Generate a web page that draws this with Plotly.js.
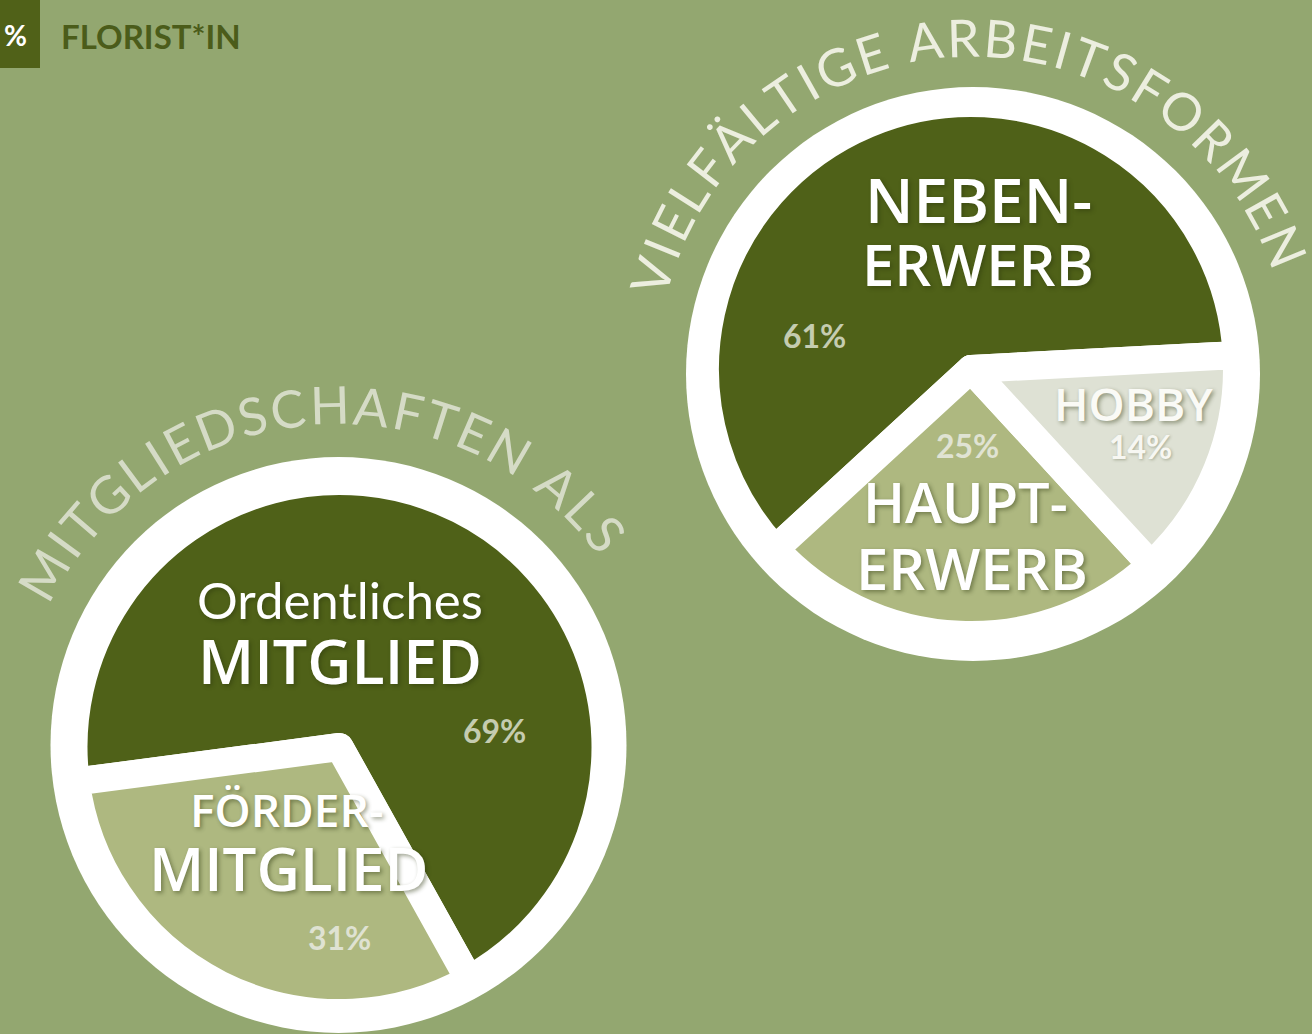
<!DOCTYPE html>
<html><head><meta charset="utf-8">
<script src="https://cdn.plot.ly/plotly-3.0.1.min.js"></script>
<style>html,body{margin:0;padding:0;background:#93a770;} #chart{width:1312px;height:1034px;}</style>
</head><body><div id="chart"></div>
<script>
const W = 1312, H = 1034;

// ---- data ----
const memberCategories = ['Ordentliches Mitglied', 'Fördermitglied'];
const memberLabelLines = [['Ordentliches', 'MITGLIED'], ['FÖRDER-', 'MITGLIED']];
const memberValues = [69, 31];
const memberTitle = 'MITGLIEDSCHAFTEN ALS';

const workCategories = ['Nebenerwerb', 'Haupterwerb', 'Hobby'];
const workLabelLines = [['NEBEN-', 'ERWERB'], ['HAUPT-', 'ERWERB'], ['HOBBY']];
const workValues = [61, 25, 14];
const workTitle = 'VIELFÄLTIGE ARBEITSFORMEN';

const headerBadge = '%';
const headerTitle = 'FLORIST*IN';

// ---- styles ----
const DARK = '#4f6118', OLIVE = '#aeb880', GREY = '#dee1d4', BG = '#93a770';
const LABEL_FONT = '"Open Sans", sans-serif';
const ARC_FONT = 'Lato';
const SHADOW = '2px 2px 4px rgba(40,50,10,0.45)';
const GAP = 28;

function px(x){ return x / W; }
function py(y){ return 1 - y / H; }

// rotation: Plotly angle (clockwise from 12 o'clock) where the first slice ends when drawn counterclockwise
function pieTrace(labels, values, colors, cx, cy, rInner, rotation) {
  const R = rInner + GAP / 2;
  return {
    type: 'pie', labels: labels, values: values, sort: false,
    direction: 'counterclockwise', rotation: rotation,
    marker: { colors: colors, line: { color: '#ffffff', width: GAP } },
    textinfo: 'none', hoverinfo: 'label+percent',
    domain: { x: [px(cx - R), px(cx + R)], y: [py(cy + R), py(cy - R)] }
  };
}

function ring(cx, cy, r) {
  return { type: 'circle', xref: 'paper', yref: 'paper', layer: 'below',
    x0: px(cx - r), x1: px(cx + r), y0: py(cy + r), y1: py(cy - r),
    fillcolor: '#ffffff', line: { width: 0 } };
}

const ctx = document.createElement('canvas').getContext('2d');
function arcLetters(text, cx, cy, r, startDeg, endDeg, size, color) {
  ctx.font = size + 'px ' + ARC_FONT;
  const chars = Array.from(text);
  const widths = chars.map(c => ctx.measureText(c).width);
  const total = widths.reduce((a, b) => a + b, 0);
  const arcLen = r * (startDeg - endDeg) * Math.PI / 180;
  const spacing = (arcLen - total) / (chars.length - 1);
  let s = 0; const out = [];
  chars.forEach((c, i) => {
    const mid = s + widths[i] / 2;
    s += widths[i] + spacing;
    if (c === ' ') return;
    const deg = startDeg - (mid / arcLen) * (startDeg - endDeg);
    const th = deg * Math.PI / 180;
    out.push({ xref: 'paper', yref: 'paper', x: px(cx + r * Math.cos(th)), y: py(cy - r * Math.sin(th)),
      text: c, showarrow: false, xanchor: 'center', yanchor: 'middle', textangle: 90 - deg,
      font: { family: ARC_FONT, size: size, color: color } });
  });
  return out;
}

function label(text, x, y, size, color, family, weight, shadow) {
  return { xref: 'paper', yref: 'paper', x: px(x), y: py(y), text: text, showarrow: false,
    xanchor: 'center', yanchor: 'middle',
    font: { family: family, size: size, color: color, weight: weight || 'normal', shadow: shadow || 'none' } };
}
function pct(v, x, y, color, shadow) {
  return label(v + '%', x, y, 32, color, 'Lato', 'bold', shadow);
}

// ---- geometry ----
const L = { cx: 339.5, cy: 747, rIn: 252, ringX: 338.5, ringY: 745, ringR: 288 };
const Rt = { cx: 971, cy: 369, rIn: 252, ringX: 973, ringY: 374, ringR: 287 };

const data = [
  pieTrace(memberCategories, memberValues, [DARK, OLIVE], L.cx, L.cy, L.rIn, -97.5),
  pieTrace(workCategories, workValues, [DARK, OLIVE, GREY], Rt.cx, Rt.cy, Rt.rIn, -132.6)
];

const annotations = [
  // header
  { xref: 'paper', yref: 'paper', x: px(15), y: py(35), text: headerBadge, showarrow: false,
    xanchor: 'center', yanchor: 'middle', font: { family: 'Lato', size: 28, color: '#ffffff', weight: 'bold' } },
  { xref: 'paper', yref: 'paper', x: px(59), y: py(36), text: headerTitle, showarrow: false,
    xanchor: 'left', yanchor: 'middle', font: { family: 'Lato', size: 33, color: '#4b5c1a', weight: 'bold' } },

  // right pie labels
  label(workLabelLines[0][0], 978, 199, 62, '#ffffff', LABEL_FONT, 600, SHADOW),
  label(workLabelLines[0][1], 978, 264, 58, '#ffffff', LABEL_FONT, 600, SHADOW),
  pct(workValues[0], 814, 336, '#c5ccb0'),
  label(workLabelLines[1][0], 965, 501, 56, '#ffffff', LABEL_FONT, 600, SHADOW),
  label(workLabelLines[1][1], 972, 567, 58, '#ffffff', LABEL_FONT, 600, SHADOW),
  pct(workValues[1], 967, 445, '#e0e3d3'),
  label(workLabelLines[2][0], 1133, 403, 46, '#fafaf6', LABEL_FONT, 600, SHADOW),
  pct(workValues[2], 1140, 447, '#f7f7f2', '1px 1px 3px rgba(60,70,30,0.35)'),

  // left pie labels
  label(memberLabelLines[0][0], 340, 599, 51, '#ffffff', 'Lato', 'normal', SHADOW),
  label(memberLabelLines[0][1], 340, 660, 61, '#ffffff', LABEL_FONT, 600, SHADOW),
  pct(memberValues[0], 495, 730, '#c5ccb0'),
  label(memberLabelLines[1][0], 287, 809, 46, '#ffffff', LABEL_FONT, 600, SHADOW),
  label(memberLabelLines[1][1], 288, 868, 60, '#ffffff', LABEL_FONT, 600, SHADOW),
  pct(memberValues[1], 339, 937, '#dfe2d2')
].concat(
  arcLetters(workTitle, Rt.ringX, Rt.ringY, 337, 166, 19, 52, '#eceedf'),
  arcLetters(memberTitle, L.ringX, L.ringY, 341, 154, 36, 52, '#d5dbc6')
);

const layout = {
  width: W, height: H, margin: { l: 0, r: 0, t: 0, b: 0 },
  paper_bgcolor: BG, plot_bgcolor: BG, showlegend: false,
  shapes: [
    ring(L.ringX, L.ringY, L.ringR),
    ring(Rt.ringX, Rt.ringY, Rt.ringR),
    { type: 'rect', xref: 'paper', yref: 'paper', layer: 'below',
      x0: 0, x1: px(40), y0: py(68), y1: 1, fillcolor: '#506118', line: { width: 0 } }
  ],
  annotations: annotations
};

Plotly.newPlot('chart', data, layout, { displayModeBar: false, staticPlot: true });
</script>
</body></html>
